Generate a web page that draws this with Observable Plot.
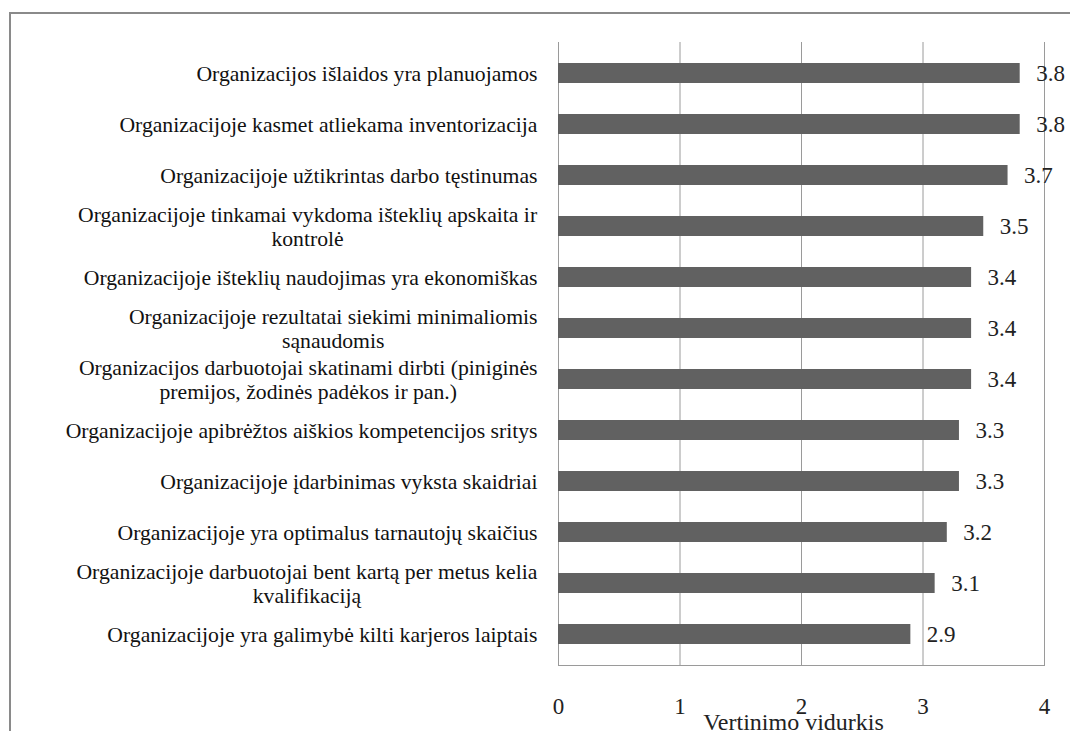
<!DOCTYPE html>
<html>
<head>
<meta charset="utf-8">
<script src="https://cdn.jsdelivr.net/npm/d3@7"></script>
<script src="https://cdn.jsdelivr.net/npm/@observablehq/plot@0.6"></script>
<style>
  html, body { margin: 0; padding: 0; background: #fff; overflow: hidden; }
  #wrap { position: relative; width: 1070px; height: 731px; }
  #border { position: absolute; left: 9px; top: 12px; width: 1200px; height: 900px;
            border: 2px solid #8a8a8a; box-sizing: border-box; }
  #chart { position: absolute; left: 0; top: 0; }
</style>
</head>
<body>
<div id="wrap"><div id="border"></div><div id="chart"></div></div>
<script>
const categories = [
  "Organizacijos išlaidos yra planuojamos",
  "Organizacijoje kasmet atliekama inventorizacija",
  "Organizacijoje užtikrintas darbo tęstinumas",
  "Organizacijoje tinkamai vykdoma išteklių apskaita ir\nkontrolė",
  "Organizacijoje išteklių naudojimas yra ekonomiškas",
  "Organizacijoje rezultatai siekimi minimaliomis\nsąnaudomis",
  "Organizacijos darbuotojai skatinami dirbti (piniginės\npremijos, žodinės padėkos ir pan.)",
  "Organizacijoje apibrėžtos aiškios kompetencijos sritys",
  "Organizacijoje įdarbinimas vyksta skaidriai",
  "Organizacijoje yra optimalus tarnautojų skaičius",
  "Organizacijoje darbuotojai bent kartą per metus kelia\nkvalifikaciją",
  "Organizacijoje yra galimybė kilti karjeros laiptais"
];
const values = [3.8, 3.8, 3.7, 3.5, 3.4, 3.4, 3.4, 3.3, 3.3, 3.2, 3.1, 2.9];
const xTicks = [0, 1, 2, 3, 4];
const xTitle = "Vertinimo vidurkis";

const data = categories.map((c, i) => ({category: c, value: values[i]}));
const serif = "Liberation Serif";

const chart = Plot.plot({
  width: 1070,
  height: 731,
  marginLeft: 558,
  marginRight: 26,
  marginTop: 42,
  marginBottom: 66,
  style: "background: transparent; overflow: visible; font-family: 'Liberation Serif', serif;",
  x: {domain: [0, 4]},
  y: {domain: categories, paddingInner: 0.6, paddingOuter: 0.3, axis: null},
  marks: [
    Plot.ruleX(xTicks.slice(1), {stroke: "#9a9a9a", strokeWidth: 1}),
    Plot.ruleX([0], {stroke: "#9a9a9a", strokeWidth: 1}),
    Plot.frame({anchor: "bottom", stroke: "#9a9a9a", strokeWidth: 1}),
    Plot.barX(data, {x: "value", y: "category", fill: "#616161"}),
    Plot.text(data, {x: "value", y: "category", text: d => d.value.toFixed(1),
      textAnchor: "start", dx: 16, fontSize: 23, fontFamily: serif, fill: "#222"}),
    Plot.text(categories, {y: d => d, text: d => d, frameAnchor: "left", dx: -21,
      textAnchor: "end", fontSize: 21.7, lineHeight: 1.1, fontFamily: serif, fill: "#111", className: "ylabels"}),
    Plot.axisX({ticks: xTicks, tickSize: 0, tickPadding: 32, fontSize: 23, label: null,
      fontFamily: serif, tickFormat: d => String(d), fill: "#222"}),
    Plot.text([xTitle], {frameAnchor: "bottom", dy: 64, dx: -8, text: d => d,
      fontSize: 24, fontFamily: serif, fill: "#222"})
  ]
});
document.getElementById("chart").append(chart);

// center the continuation lines of wrapped labels under their first line
chart.querySelectorAll("g.ylabels text").forEach(t => {
  const spans = t.querySelectorAll("tspan");
  if (spans.length > 1) {
    const w = t.getBBox().width;
    t.setAttribute("text-anchor", "middle");
    spans.forEach(s => s.setAttribute("x", -w / 2));
  }
});
</script>
</body>
</html>
